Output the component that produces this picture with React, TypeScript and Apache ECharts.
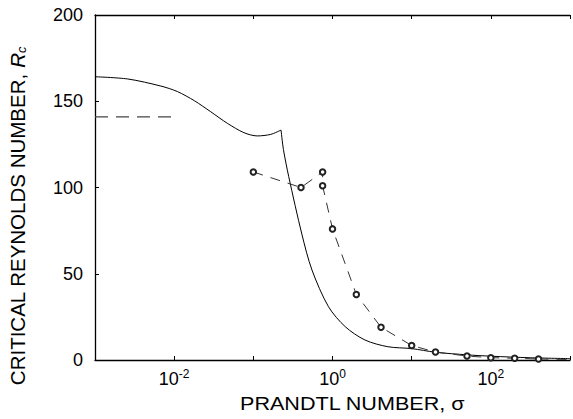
import React, { useEffect, useRef } from "react";
import * as echarts from "echarts";

const solidSigma1 = [0.001, 0.0026, 0.0068, 0.011, 0.018, 0.029, 0.047, 0.076, 0.112, 0.166, 0.224];
const solidRc1 = [164.2, 162.9, 158.8, 155.6, 150.3, 143.9, 137.2, 131.8, 129.9, 130.8, 133.3];
const solidSigma2 = [0.224, 0.24, 0.28, 0.41, 0.55, 0.89, 1.45, 2.57, 5.0, 10, 20, 50, 100, 316, 1000];
const solidRc2 = [133.3, 122, 106.3, 73, 52.2, 30.9, 19.3, 11.6, 7.7, 6.6, 4.5, 3.0, 2.2, 1.3, 0.8];
const dashedSigma = [0.1, 0.4, 0.75, 0.75, 1.0, 2.0, 4.1, 10, 20, 50, 100, 200, 400];
const dashedRc = [109, 100, 109, 101, 76, 38, 19, 8.4, 4.6, 2.3, 1.35, 1.0, 0.6];
const tailSigma = [400, 1000];
const tailRc = [0.6, 0.3];
const limitSigma = [0.001, 0.01];
const limitRc = [141, 141];
const yTicks = { min: 0, max: 200, interval: 50 };
const xLabel = "PRANDTL NUMBER, σ";
const yLabel = "CRITICAL REYNOLDS NUMBER, {i|R}{sub|c}";

const FONT = "Liberation Sans, Arial, Helvetica, sans-serif";

function pairs(xs: number[], ys: number[]) {
  return xs.map((x, i) => [x, ys[i]]);
}

export default function App() {
  const ref = useRef<HTMLDivElement>(null);
  useEffect(() => {
    if (!ref.current) return;
    const chart = echarts.init(ref.current, undefined, { renderer: "svg" });
    const tickFmt = (v: number) => {
      const e = Math.round(Math.log10(v));
      if (e % 2 !== 0) return "";
      return `{b|10}{sup|${e}}`;
    };
    chart.setOption({
      animation: false,
      backgroundColor: "#ffffff",
      grid: { left: 95, right: 0, top: 15, bottom: 59, containLabel: false },
      xAxis: [
        {
          type: "log",
          logBase: 10,
          min: 0.001,
          max: 1000,
          interval: 1,
          position: "bottom",
          axisLine: { show: true, onZero: false, lineStyle: { color: "#000", width: 1.3 } },
          axisTick: { show: true, inside: true, length: 4, lineStyle: { color: "#000" } },
          splitLine: { show: false },
          minorTick: { show: false },
          axisLabel: {
            show: true,
            margin: 8,
            formatter: tickFmt,
            rich: {
              b: { fontSize: 18, fontFamily: FONT, color: "#000" },
              sup: { fontSize: 12, fontFamily: FONT, color: "#000", padding: [0, 0, 10, 0] },
            },
          },
        },
        {
          type: "log",
          logBase: 10,
          min: 0.001,
          max: 1000,
          interval: 1,
          position: "top",
          axisLine: { show: true, onZero: false, lineStyle: { color: "#000", width: 1.3 } },
          axisTick: { show: true, inside: true, length: 4, lineStyle: { color: "#000" } },
          splitLine: { show: false },
          axisLabel: { show: false },
        },
      ],
      yAxis: {
        type: "value",
        min: yTicks.min,
        max: yTicks.max,
        interval: yTicks.interval,
        axisLine: { show: true, onZero: false, lineStyle: { color: "#000", width: 1.3 } },
        axisTick: { show: true, inside: true, length: 4, lineStyle: { color: "#000" } },
        splitLine: { show: false },
        axisLabel: { fontSize: 18, fontFamily: FONT, color: "#000", margin: 12 },
      },
      graphic: [
        {
          type: "text",
          x: 240,
          y: 403.5,
          scaleX: 1.16,
          style: {
            text: xLabel,
            fontSize: 18.6,
            fontFamily: FONT,
            fill: "#000",
            align: "left",
            verticalAlign: "middle",
          },
        },
        {
          type: "text",
          x: 17.5,
          y: 216,
          rotation: Math.PI / 2,
          style: {
            text: yLabel,
            fontSize: 20.5,
            fontFamily: FONT,
            fill: "#000",
            align: "center",
            verticalAlign: "middle",
            rich: {
              i: { fontSize: 20.5, fontFamily: FONT, fontStyle: "italic", fill: "#000" },
              sub: { fontSize: 13, fontFamily: FONT, fontStyle: "italic", fill: "#000", padding: [8, 0, 0, 0] },
            },
          },
        },
      ],
      series: [
        {
          type: "line",
          data: pairs(solidSigma1, solidRc1),
          smooth: 0.3,
          showSymbol: false,
          symbol: "none",
          lineStyle: { color: "#000", width: 1 },
        },
        {
          type: "line",
          data: pairs(solidSigma2, solidRc2),
          smooth: 0.3,
          showSymbol: false,
          symbol: "none",
          lineStyle: { color: "#000", width: 1 },
        },
        {
          type: "line",
          data: pairs(limitSigma, limitRc),
          symbol: "none",
          lineStyle: { color: "#444", width: 1.2, type: [13, 8] },
        },
        {
          type: "line",
          data: pairs(tailSigma, tailRc),
          symbol: "none",
          lineStyle: { color: "#333", width: 1, type: [10, 8] },
        },
        {
          type: "line",
          data: pairs(dashedSigma, dashedRc),
          symbol: "emptyCircle",
          symbolSize: 5.5,
          showAllSymbol: true,
          itemStyle: { color: "#222", borderColor: "#222", borderWidth: 0.8 },
          lineStyle: { color: "#333", width: 1, type: [10, 8] },
          z: 3,
        },
      ],
    });
    return () => chart.dispose();
  }, []);
  return <div ref={ref} style={{ width: 573, height: 419, position: "fixed", left: 0, top: 0 }} />;
}
